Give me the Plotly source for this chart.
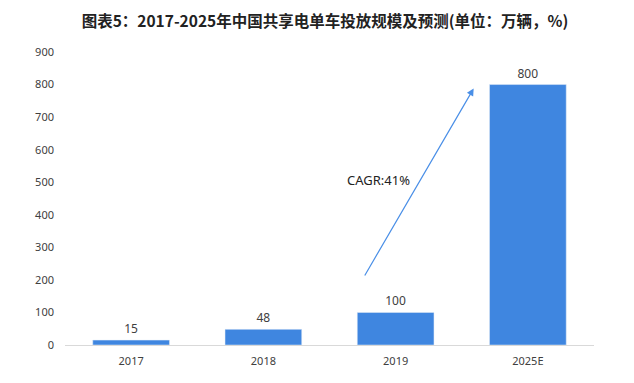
import plotly.graph_objects as go

categories = ["2017", "2018", "2019", "2025E"]
values = [15, 48, 100, 800]
y_ticks = [0, 100, 200, 300, 400, 500, 600, 700, 800, 900]
title = "图表5：2017-2025年中国共享电单车投放规模及预测(单位：万辆，%)"
cagr_label = "CAGR:41%"

fig = go.Figure()
fig.add_trace(go.Bar(
    x=list(range(len(categories))), y=values,
    marker_color="#3F86E0", width=0.58,
    text=[str(v) for v in values], textposition="outside",
    textfont=dict(size=12, color="#404040", family="Noto Sans, Arial"),
    cliponaxis=False,
))

fig.add_annotation(
    x=2.59, y=788, ax=1.76, ay=209,
    xref="x", yref="y", axref="x", ayref="y",
    showarrow=True, arrowhead=2, arrowsize=1.2, arrowwidth=1.2,
    arrowcolor="#4A8FE7", text="",
)
fig.add_annotation(
    x=1.87, y=506, xref="x", yref="y", text=cagr_label, showarrow=False,
    font=dict(size=13, color="#222222", family="Noto Sans, Arial"),
)

fig.update_layout(
    width=634, height=383,
    margin=dict(l=57, r=48, t=44, b=46),
    paper_bgcolor="white", plot_bgcolor="white",
    title=dict(text="<b>" + title + "</b>", x=0.5, xanchor="center", y=0.964, yanchor="middle",
               font=dict(size=15.5, color="#222222", family="Noto Sans CJK SC")),
    showlegend=False,
    xaxis=dict(
        tickmode="array", tickvals=list(range(len(categories))), ticktext=categories,
        range=[-0.5, 3.5], showgrid=False, zeroline=False,
        showline=True, linecolor="#D9D9D9", linewidth=1, ticks="",
        ticklabelstandoff=6,
        tickfont=dict(size=11, color="#404040", family="Noto Sans, Arial"),
    ),
    yaxis=dict(
        range=[0, 900], tickvals=y_ticks, showgrid=False, zeroline=False,
        showline=False, ticks="", ticklabelstandoff=10,
        tickfont=dict(size=11, color="#404040", family="Noto Sans, Arial"),
    ),
)

fig.write_html("out.html")
